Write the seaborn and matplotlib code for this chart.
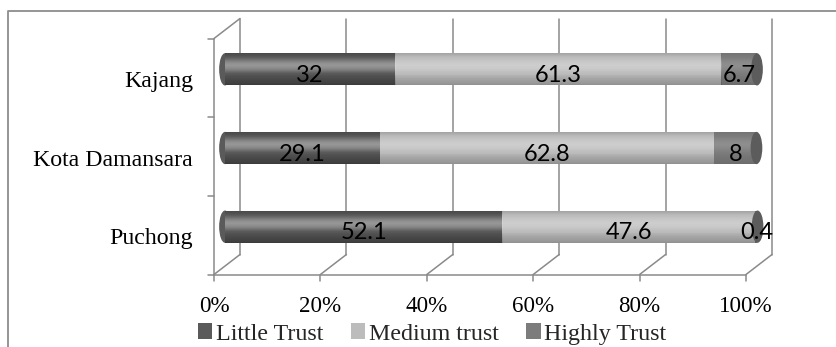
import numpy as np
import pandas as pd
import matplotlib
matplotlib.use("Agg")
import matplotlib.pyplot as plt
import matplotlib.transforms as mtransforms
from matplotlib.patches import Ellipse, Patch
from matplotlib.lines import Line2D
import seaborn as sns

# data
locations = ["Kajang", "Kota Damansara", "Puchong"]
little_trust = [32, 29.1, 52.1]
medium_trust = [61.3, 62.8, 47.6]
highly_trust = [6.7, 8, 0.4]
series_names = ["Little Trust", "Medium trust", "Highly Trust"]
series_colors = ["#5a5a5a", "#bcbcbc", "#7c7c7c"]
cap_color = "#5c5c5c"
x_ticks = [0, 20, 40, 60, 80, 100]
x_tick_labels = ["0%", "20%", "40%", "60%", "80%", "100%"]

df = pd.DataFrame({"location": locations, "little": little_trust,
                   "medium": medium_trust, "high": highly_trust})
df["end_little"] = df["little"]
df["end_medium"] = df["little"] + df["medium"]
df["end_high"] = df["end_medium"] + df["high"]

W, H = 836, 347
DPI = 100
sns.set_style("white")
fig = plt.figure(figsize=(W / DPI, H / DPI), dpi=DPI)
ax = fig.add_axes([225 / W, 1 - 266 / H, 532 / W, 236 / H])

bar_h = 0.41
# stacked bars: draw the running totals, longest first
for col, color in zip(["end_high", "end_medium", "end_little"], series_colors[::-1]):
    sns.barplot(data=df, y="location", x=col, order=locations, color=color,
                saturation=1, width=bar_h, linewidth=0, ax=ax, zorder=2)

# cylinder shading on each bar
bars = list(ax.patches)
prof = np.linspace(0, 1, 40)
light = 0.16 * np.exp(-((prof - 0.4) / 0.22) ** 2) - 0.12 * prof ** 3 - 0.08 * (1 - prof) ** 4
rgba = np.zeros((len(prof), 1, 4))
rgba[light > 0, 0, :3] = 1.0
rgba[:, 0, 3] = np.abs(light)
for p in bars:
    x0, y0 = p.get_x(), p.get_y()
    im = ax.imshow(rgba, extent=[x0, x0 + p.get_width(), y0 + p.get_height(), y0],
                   aspect="auto", zorder=2.5, interpolation="bilinear")
    im.set_clip_path(p)

# rounded left ends and right end caps
cap_w = 2.2
for i, total in enumerate(df["end_high"]):
    ax.add_patch(Ellipse((0, i), cap_w, bar_h, color=series_colors[0],
                         zorder=1.5, clip_on=False, lw=0))
    ax.add_patch(Ellipse((total, i), cap_w, bar_h, color=cap_color,
                         zorder=3, clip_on=False, lw=0))

ax.set_xlim(0, 100)
ax.set_ylim(2.5, -0.5)
ax.axis("off")


def off(dx, dy):
    return mtransforms.ScaledTranslation(dx / DPI, dy / DPI, fig.dpi_scale_trans)


front = ax.transData + off(-11, -8.5)
back = ax.transData + off(15, 11.5)
grid_c = "#8a8a8a"
grid_w = 1.1


def to_fig(trans, x, y, dx=0, dy=0):
    px = trans.transform((x, y)) + np.array([dx, dy])
    return fig.transFigure.inverted().transform(px)


def seg(p1, p2, z=0.5):
    ax.add_line(Line2D([p1[0], p2[0]], [p1[1], p2[1]], transform=fig.transFigure,
                       color=grid_c, lw=grid_w, clip_on=False, zorder=z))


# back wall grid, floor, left wall
for t in x_ticks:
    seg(to_fig(back, t, -0.5), to_fig(back, t, 2.5))
    seg(to_fig(front, t, 2.5), to_fig(back, t, 2.5))
    seg(to_fig(front, t, 2.5), to_fig(front, t, 2.5, dy=-6))
seg(to_fig(front, 0, 2.5), to_fig(front, 100, 2.5))
seg(to_fig(front, 0, -0.5), to_fig(front, 0, 2.5))
seg(to_fig(front, 0, -0.5), to_fig(back, 0, -0.5))
for b in [-0.5, 0.5, 1.5, 2.5]:
    seg(to_fig(front, 0, b), to_fig(front, 0, b, dx=-6))

serif = "Liberation Serif"
for t, lab in zip(x_ticks, x_tick_labels):
    ax.text(t, 2.5, lab, transform=front + off(0, -21), ha="center", va="top",
            fontsize=16.6, family=serif, color="black")
for i, name in enumerate(locations):
    ax.text(0, i, name, transform=front + off(-21, -3.5), ha="right", va="center",
            fontsize=17.2, family=serif, color="black")

# value labels centred in each segment
for i in range(len(locations)):
    starts = [0, df["end_little"][i], df["end_medium"][i]]
    vals = [little_trust[i], medium_trust[i], highly_trust[i]]
    for s, v in zip(starts, vals):
        ax.text(s + v / 2, i, f"{v:g}", transform=ax.transData + off(0, -6),
                ha="center", va="center", fontsize=17, family="Lato",
                color="black", zorder=5)

handles = [Patch(facecolor=c, edgecolor="none") for c in series_colors]
fig.legend(handles, series_names, loc="center", bbox_to_anchor=(432 / W, 1 - 334 / H),
           ncol=3, frameon=False, prop={"family": serif, "size": 17.3},
           handlelength=0.6, handleheight=0.6, handletextpad=0.15,
           columnspacing=1.15, borderaxespad=0, borderpad=0)

# outer chart border (left and top visible)
fig.add_artist(Line2D([8 / W, 8 / W, 1], [0, 1 - 11 / H, 1 - 11 / H],
                      transform=fig.transFigure, color="#8c8c8c", lw=1.3))

fig.savefig("out.png", dpi=DPI)
